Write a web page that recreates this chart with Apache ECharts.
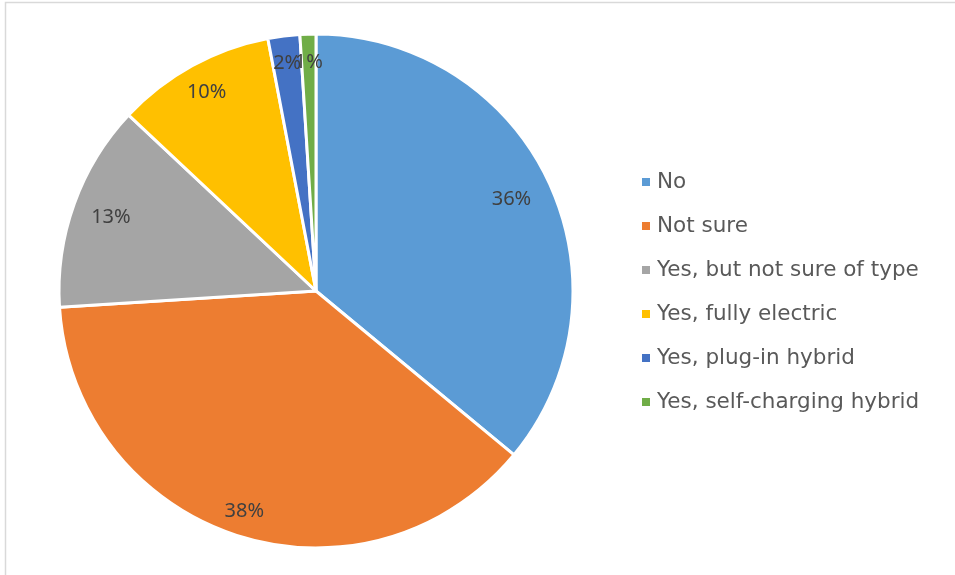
<!DOCTYPE html>
<html>
<head>
<meta charset="utf-8">
<script src="https://cdn.jsdelivr.net/npm/echarts@6/dist/echarts.min.js"></script>
<style>
  html, body { margin: 0; padding: 0; background: #fff; }
  #chart { width: 955px; height: 575px; }
</style>
</head>
<body>
<div id="chart"></div>
<script>
// Survey answers and their shares (percent of respondents)
const categories = [
  'No',
  'Not sure',
  'Yes, but not sure of type',
  'Yes, fully electric',
  'Yes, plug-in hybrid',
  'Yes, self-charging hybrid'
];
const shares = [36, 38, 13, 10, 2, 1];

// Slice colours
const sliceColors = ['#5B9BD5', '#ED7D31', '#A5A5A5', '#FFC000', '#4472C4', '#70AD47'];

// Distance of each percentage label from the pie centre (px)
const labelDistance = [216, 232, 218, 227, 230, 229];

const CX = 316, CY = 291, R = 257;

const chart = echarts.init(document.getElementById('chart'), null, { renderer: 'canvas' });

chart.setOption({
  animation: false,
  backgroundColor: '#ffffff',
  graphic: [{
    type: 'rect',
    silent: true,
    shape: { x: 5.5, y: 2.5, width: 1200, height: 1200 },
    style: { fill: 'none', stroke: '#d9d9d9', lineWidth: 1.5 }
  }],
  legend: {
    orient: 'vertical',
    left: 637,
    top: 166,
    icon: 'rect',
    itemWidth: 8,
    itemHeight: 8,
    itemGap: 22,
    itemStyle: { borderWidth: 0 },
    textStyle: {
      fontFamily: 'DejaVu Sans',
      fontSize: 21.5,
      color: '#595959',
      padding: [0, 0, 0, 2]
    },
    data: categories
  },
  series: [{
    type: 'pie',
    center: [CX, CY],
    radius: R,
    startAngle: 90,
    clockwise: true,
    avoidLabelOverlap: false,
    itemStyle: { borderColor: '#ffffff', borderWidth: 3 },
    emphasis: { disabled: true },
    label: {
      show: true,
      position: 'inside',
      formatter: '{c}%',
      fontFamily: 'Noto Sans',
      fontSize: 20,
      color: '#404040'
    },
    labelLine: { show: false },
    labelLayout: function (params) {
      const lr = params.labelRect;
      const lx = lr.x + lr.width / 2;
      const ly = lr.y + lr.height / 2;
      const vx = lx - CX, vy = ly - CY;
      const len = Math.sqrt(vx * vx + vy * vy) || 1;
      const d = labelDistance[params.dataIndex];
      return { dx: vx / len * d - vx, dy: vy / len * d - vy };
    },
    data: categories.map((name, i) => ({
      name: name,
      value: shares[i],
      itemStyle: { color: sliceColors[i] }
    }))
  }]
});
</script>
</body>
</html>
